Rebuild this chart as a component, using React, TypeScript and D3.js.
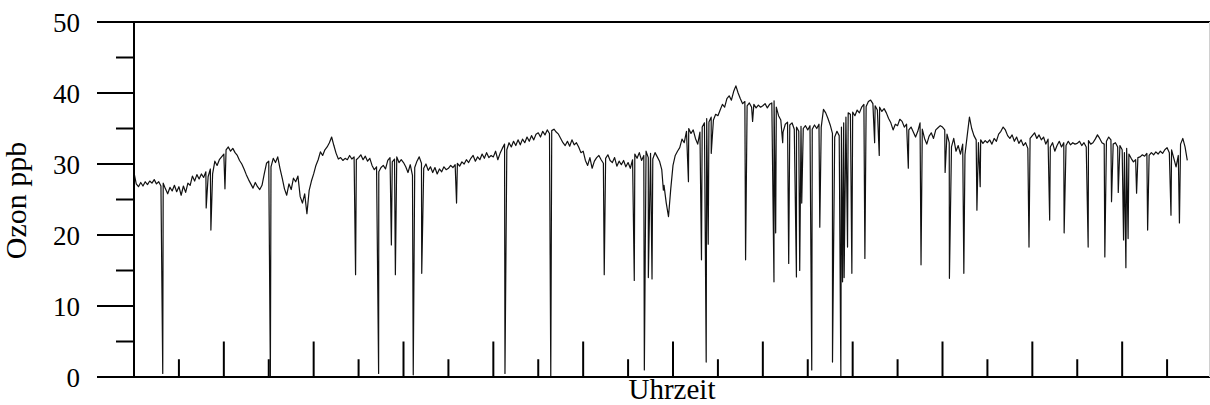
import React from "react";
import * as d3 from "d3";

// ---- data (hours since start, ozone ppb) ----
const SAMPLE_STEP_H = 0.05;

const ozoneBase: number[] = [
  // 0 h
  28.8, 27.2, 26.8, 27.4, 26.9, 27.5, 27.1, 27.6, 27.3, 27.8, 27.2, 27.5, 26.9, 27.3, 26.5, 25.8, 26.7, 26.2, 27.0, 26.1,
  // 1 h
  26.8, 25.6, 26.9, 26.0, 27.3, 27.0, 28.3, 27.6, 28.5, 27.9, 28.6, 28.1, 28.9, 28.2, 29.3, 28.6, 30.4, 29.8, 30.6, 31.0,
  // 2 h
  31.4, 32.0, 32.4, 31.8, 32.2, 31.6, 31.2, 30.5, 30.0, 29.3, 28.5, 27.8, 27.2, 26.6, 27.4, 26.8, 26.4, 27.0, 28.6, 30.1,
  // 3 h
  30.4, 29.6, 30.8, 30.2, 31.0, 29.4, 28.0, 26.5, 25.6, 27.2, 26.4, 28.0, 27.5, 28.3, 25.4, 24.5, 25.8, 23.0, 26.3, 27.6,
  // 4 h
  28.6, 29.8, 30.6, 31.7, 31.2, 32.0, 32.4, 33.0, 33.8, 32.6, 31.5, 30.7, 30.9, 30.5, 30.8, 30.6, 31.2, 30.7, 31.0, 30.6,
  // 5 h
  30.9, 31.3, 30.6, 31.1, 30.4, 30.8, 29.8, 29.2, 29.6, 28.9, 29.5, 29.8, 29.3, 30.5, 30.9, 30.3, 30.7, 31.0, 30.2, 30.6,
  // 6 h
  30.2, 29.6, 28.8, 29.9, 28.4, 29.5, 30.4, 31.0, 30.1, 29.4, 30.0, 29.1, 29.6, 28.8, 29.5, 28.6, 29.3, 28.9, 29.6, 29.2,
  // 7 h
  29.4, 29.8, 29.5, 29.9, 30.1, 29.7, 30.3, 30.0, 30.6, 30.2, 30.8, 31.2, 30.4, 31.0, 30.6, 31.4, 30.8, 31.6, 30.9, 31.2,
  // 8 h
  31.0, 31.8, 30.6, 31.5, 32.2, 32.8, 32.0, 33.0, 32.4, 33.2, 32.6, 33.4, 32.7, 33.5, 33.0, 33.8, 33.2, 34.0, 33.4, 34.2,
  // 9 h
  34.4, 33.8, 34.6, 34.1, 34.8, 34.3, 34.7, 34.9, 34.5, 34.2, 33.6, 33.0, 32.6, 33.2, 32.5, 33.4, 32.7, 33.0, 32.4, 31.6,
  // 10 h
  31.8, 30.5, 29.8, 30.9, 29.4, 30.4, 30.9, 31.2, 30.6, 30.1, 30.8, 31.3, 30.5, 30.2, 30.9, 29.7, 30.4, 29.9, 30.5, 29.6,
  // 11 h
  30.2, 29.4, 30.6, 31.4, 30.8, 31.6, 30.5, 31.2, 31.8, 30.9, 31.5, 30.7, 31.6, 31.0, 30.4, 29.2, 27.0, 24.5, 22.6, 26.5,
  // 12 h
  29.8, 31.2, 31.8, 32.3, 33.5, 33.0, 34.6, 35.0, 34.3, 34.8, 33.6, 32.8, 34.5, 35.2, 35.8, 36.4, 35.9, 36.6, 36.2, 37.0,
  // 13 h
  36.8, 37.6, 38.4, 38.0, 39.2, 39.6, 39.0, 40.2, 41.0, 40.0, 39.2, 38.5, 38.8, 38.2, 38.6, 38.0, 38.4, 37.9, 38.3, 38.0,
  // 14 h
  38.2, 38.5, 37.9, 38.4, 38.6, 38.9, 38.0, 36.8, 36.2, 34.5, 35.6, 35.9, 35.5, 35.8, 34.9, 35.2, 34.6, 35.3, 35.0, 35.4,
  // 15 h
  34.8, 35.4, 34.9, 35.5, 35.0, 35.6, 35.2, 37.7, 37.2, 36.4, 35.5, 34.3, 33.8, 34.6, 34.0, 35.2, 35.8, 36.6, 37.2, 37.0,
  // 16 h
  37.3, 36.8, 37.6, 37.2, 38.0, 38.4, 38.1, 38.8, 39.0, 38.5, 38.2, 37.6, 38.0, 37.4, 37.8, 37.2, 36.4, 35.8, 34.8, 35.6,
  // 17 h
  35.4, 36.3, 36.0, 35.2, 35.6, 34.8, 35.2, 34.5, 33.8, 34.6, 35.8, 34.9, 33.6, 32.8, 33.9, 34.4, 33.6, 34.8, 35.1, 35.4,
  // 18 h
  35.2, 34.8, 34.2, 33.0, 32.4, 33.6, 31.8, 32.6, 31.4, 32.8, 31.3, 34.0, 36.6, 35.0, 34.0, 33.4, 33.0, 33.4, 32.9, 33.3,
  // 19 h
  33.0, 33.4, 32.8, 33.6, 33.2, 34.2, 34.6, 35.2, 34.8, 34.0, 33.6, 34.1, 33.2, 33.8, 32.9, 33.4, 32.6, 33.0, 32.2, 33.6,
  // 20 h
  34.0, 34.4, 33.6, 34.1, 33.4, 33.8, 32.8, 33.5, 32.4, 33.0, 31.8, 32.6, 33.2, 32.4, 33.0, 32.6, 33.2, 32.7, 33.0, 32.8,
  // 21 h
  32.9, 33.2, 32.6, 33.0, 32.4, 33.3, 32.8, 33.0, 33.5, 34.1, 33.6, 33.0, 32.8, 33.2, 33.8, 33.4, 32.8, 33.0, 32.4, 32.6,
  // 22 h
  32.0, 31.6, 32.2, 31.4, 30.8, 30.3, 30.6, 30.9, 31.0, 31.3, 31.1, 31.5, 31.2, 31.6, 31.3, 31.7, 31.4, 31.8, 31.5, 32.0,
  // 23 h
  32.3, 31.6, 32.0, 30.8, 29.6, 31.2, 32.8, 33.6, 32.4, 30.5,
];

// short drops of the measurement (instrument dips)
const spikeHours: number[] = [
  0.64, 1.607, 1.712, 2.025, 3.036, 4.933, 5.446, 5.73, 5.819, 6.217, 6.406, 7.181, 8.259, 9.279,
  10.469, 11.138, 11.362, 11.451, 11.533, 11.786, 12.344, 12.634, 12.739, 12.784, 12.851, 13.616,
  13.772, 14.248, 14.286, 14.442, 14.576, 14.748, 14.821, 14.866, 15.089, 15.268, 15.551, 15.737,
  15.775, 15.81, 15.886, 15.982, 16.272, 16.489, 16.592, 17.239, 17.522, 18.058, 18.154, 18.475,
  18.766, 18.839, 19.926, 20.386, 20.708, 21.243, 21.614, 21.763, 21.913, 22.031, 22.083, 22.132,
  22.321, 22.567, 23.087, 23.275,
];
const spikeValues: number[] = [
  0.5, 23.8, 20.7, 26.5, 0.0, 14.4, 0.5, 18.6, 14.4, 0.3, 14.6, 24.5, 0.5, 0.0,
  14.4, 13.6, 1.0, 14.0, 13.8, 26.3, 27.5, 16.5, 2.1, 18.7, 31.5, 16.5,
  36.0, 13.4, 20.3, 33.0, 16.0, 14.1, 15.0, 24.5, 1.0, 21.1, 2.1, 0.0,
  13.4, 14.0, 18.3, 14.6, 16.7, 33.0, 31.2, 29.4, 15.8, 28.8, 13.9, 14.6,
  23.5, 26.8, 18.3, 22.1, 20.3, 18.3, 16.9, 24.7, 26.0, 19.3, 15.4, 19.5,
  25.9, 20.7, 22.8, 21.7,
];

const yMajorTicks = [0, 10, 20, 30, 40, 50];
const yMinorTicks = [5, 15, 25, 35, 45];
const xTickHours = d3.range(0, 25);

const yLabel = "Ozon ppb";
const xLabel = "Uhrzeit";

export default function App() {
  const W = 1210;
  const H = 405;
  const left = 134;
  const right = 1212;
  const top = 22;
  const bottom = 377;

  const x = d3.scaleLinear().domain([0, 24]).range([left, right]);
  const y = d3.scaleLinear().domain([0, 50]).range([bottom, top]);

  const pts = ozoneBase
    .map((v, i) => ({ t: i * SAMPLE_STEP_H, v }))
    .concat(spikeHours.map((t, i) => ({ t, v: spikeValues[i] })))
    .sort((a, b) => a.t - b.t);

  const line = d3
    .line<{ t: number; v: number }>()
    .x((d) => x(d.t))
    .y((d) => y(d.v));

  const font = "'Liberation Serif', 'Times New Roman', serif";

  return (
    <svg
      width={W}
      height={H}
      style={{ position: "absolute", left: 0, top: 0, background: "#fff" }}
    >
      <rect x={0} y={0} width={W} height={H} fill="#fff" />
      {/* data */}
      <path d={line(pts) || ""} fill="none" stroke="#111" strokeWidth={1.2} strokeLinejoin="round" />

      {/* frame */}
      <line x1={97} x2={W} y1={top} y2={top} stroke="#000" strokeWidth={2} />
      <line x1={97} x2={W} y1={bottom} y2={bottom} stroke="#000" strokeWidth={2} />
      <line x1={left} x2={left} y1={top} y2={bottom} stroke="#000" strokeWidth={2} />
      <line x1={1209.5} x2={1209.5} y1={top} y2={bottom} stroke="#d0d0d0" strokeWidth={1} />

      {/* y ticks */}
      {yMajorTicks.map((v) => (
        <g key={"ym" + v}>
          <line x1={97} x2={left} y1={y(v)} y2={y(v)} stroke="#000" strokeWidth={2} />
          <text
            x={80}
            y={y(v) + 9.5}
            textAnchor="end"
            fontFamily={font}
            fontSize={27}
            fill="#000"
          >
            {v}
          </text>
        </g>
      ))}
      {yMinorTicks.map((v) => (
        <line key={"yn" + v} x1={116} x2={left} y1={y(v)} y2={y(v)} stroke="#000" strokeWidth={2} />
      ))}

      {/* x ticks (inside, alternating) */}
      {xTickHours.map((h) => (
        <line
          key={"xt" + h}
          x1={x(h)}
          x2={x(h)}
          y1={bottom}
          y2={h % 2 === 0 ? y(5) : y(2.5)}
          stroke="#000"
          strokeWidth={2}
        />
      ))}

      {/* labels */}
      <text
        x={(left + right) / 2 - 1}
        y={399}
        textAnchor="middle"
        fontFamily={font}
        fontSize={29}
        fill="#000"
      >
        {xLabel}
      </text>
      <text
        transform={`translate(26, ${(top + bottom) / 2 + 1}) rotate(-90)`}
        textAnchor="middle"
        fontFamily={font}
        fontSize={30}
        fill="#000"
      >
        {yLabel}
      </text>
    </svg>
  );
}
